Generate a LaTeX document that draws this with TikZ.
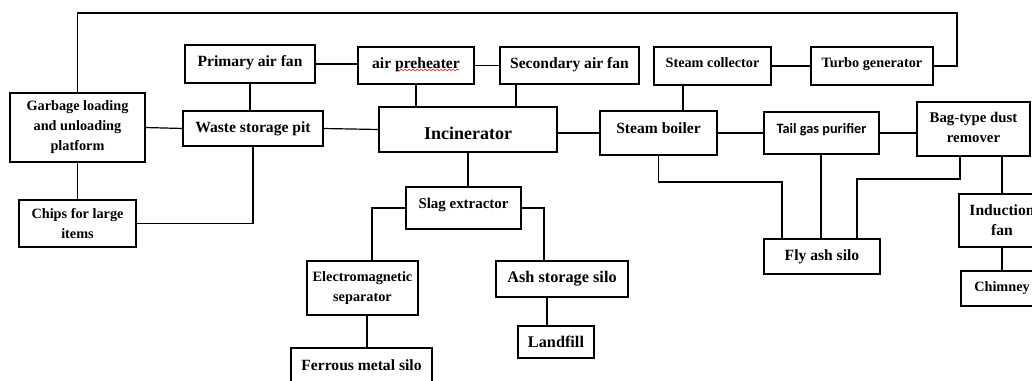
\documentclass[tikz,border=0pt]{standalone}
\usepackage{fontspec}
\setmainfont{Liberation Serif}
\newfontfamily\calfont{Carlito}
\usetikzlibrary{decorations.pathmorphing}
\newcommand\mybox[7][]{%
  \node[box,#1,minimum width={(#4-#2)*0.75pt},minimum height={(#5-#3)*0.75pt}]
    (#6) at ({(#2+#4)/2},{(#3+#5)/2}) {#7};}
\newcommand\up[2]{\raisebox{#1}[\height][\depth]{#2}}
\tikzset{
  box/.style={draw=black,line width=0.9pt,inner sep=0pt,outer sep=0pt,align=center,
    font=\fontsize{10.7pt}{15pt}\selectfont\bfseries},
  fa/.style={font=\fontsize{10.7pt}{15pt}\selectfont\bfseries},
  fb/.style={font=\fontsize{11.7pt}{15pt}\selectfont\bfseries},
  fc/.style={font=\fontsize{12.2pt}{15pt}\selectfont\bfseries},
  conn/.style={draw=black,line width=0.9pt}
}
\begin{document}
\begin{tikzpicture}[x=0.75pt,y=-0.75pt]
\useasboundingbox (0,0) rectangle (1032,381);
\clip (0,0) rectangle (1032,381);
\fill[white] (0,0) rectangle (1032,381);
% boxes
\mybox[fa]{10}{93}{145}{162}{garbage}{Garbage loading\\and unloading\\platform}
\mybox[fb]{185}{45}{315}{83}{primary}{\up{0.8pt}{Primary air fan}}
\mybox[fb]{183}{111}{323}{146}{waste}{Waste storage pit}
\mybox[fa]{19}{200}{136}{247}{chips}{Chips for large\\items}
\mybox[fb]{358}{47}{474}{84}{preheater}{\up{0.8pt}{air preheater}}
\mybox[fb]{500}{47}{639}{84}{secondary}{\up{0.8pt}{Secondary air fan}}
\mybox[font=\fontsize{13.5pt}{16pt}\selectfont\bfseries]{379}{107}{557}{152}{incin}{\up{-3pt}{Incinerator}}
\mybox[fb]{600}{111}{717}{155}{boiler}{\up{3.8pt}{Steam boiler}}
\mybox[fa]{654}{47}{771}{85}{collector}{\up{2.3pt}{Steam collector}}
\mybox[fa]{811}{47}{933}{85}{turbo}{\up{1.5pt}{Turbo generator}}
\mybox[font=\fontsize{10.7pt}{12pt}\selectfont\calfont\bfseries]{764}{112}{879}{154}{tail}{\up{2.3pt}{Tail gas purifier}}
\mybox[font=\fontsize{11.1pt}{15pt}\selectfont\bfseries]{917}{102}{1030}{156}{bag}{\up{1.5pt}{Bag-type dust}\\\up{1.5pt}{remover}}
\mybox[fb]{959}{194}{1045}{247}{induction}{Induction\\fan}
\mybox[fa]{961}{271}{1043}{306}{chimney}{Chimney}
\mybox[fb]{764}{239}{880}{274}{flyash}{Fly ash silo}
\mybox[font=\fontsize{11.2pt}{15pt}\selectfont\bfseries]{406}{187}{521}{229}{slag}{\up{2.3pt}{Slag extractor}}
\mybox[fa]{307}{261}{418}{315}{em}{Electromagnetic\\separator}
\mybox[fc]{496}{261}{628}{297}{ash}{Ash storage silo}
\mybox[fc]{518}{326}{594}{358}{landfill}{Landfill}
\mybox[fb]{291}{348}{432}{383}{ferrous}{Ferrous metal silo}
% spell-check squiggle
\draw[red!80!black,line width=0.4pt,decorate,decoration={snake,amplitude=0.6pt,segment length=3pt}]
  (396,70) -- (459,70);
% connectors
\coordinate (tr) at (957,13);
\draw[conn] (garbage.north) |- (tr) |- (turbo.east);
\draw[conn] (garbage.east) -- (waste.west);
\draw[conn] (primary.south) -- (primary.south |- waste.north);
\draw[conn] (garbage.south) -- (garbage.south |- chips.north);
\draw[conn] (chips.east) -| (waste.south);
\draw[conn] (primary.east) -- (primary.east -| preheater.west);
\draw[conn] (preheater.east) -- (secondary.west);
\draw[conn] (preheater.south) -- (preheater.south |- incin.north);
\draw[conn] (secondary.south -| 516,0) -- (incin.north -| 516,0);
\draw[conn] (waste.east) -- (incin.west);
\draw[conn] (incin.east |- boiler.west) -- (boiler.west);
\draw[conn] (collector.south -| 683,0) -- (boiler.north -| 683,0);
\draw[conn] (collector.east) -- (turbo.west);
\draw[conn] (boiler.east) -- (boiler.east -| tail.west);
\draw[conn] (tail.east) -- (tail.east -| bag.west);
\draw[conn] (boiler.south) |- (782,182) -- (flyash.north -| 782,0);
\draw[conn] (tail.south -| 821,0) -- (flyash.north -| 821,0);
\draw[conn] (bag.south -| 960,0) |- (857,179) -- (flyash.north -| 857,0);
\draw[conn] (bag.south -| induction.north) -- (induction.north);
\draw[conn] (induction.south) -- (chimney.north);
\draw[conn] (incin.south) -- (incin.south |- slag.north);
\draw[conn] (slag.west) -| (em.north -| 372,0);
\draw[conn] (slag.east) -| (ash.north -| 544,0);
\draw[conn] (ash.south -| 547,0) -- (landfill.north -| 547,0);
\draw[conn] (em.south -| 367,0) -- (ferrous.north -| 367,0);
\end{tikzpicture}
\end{document}
